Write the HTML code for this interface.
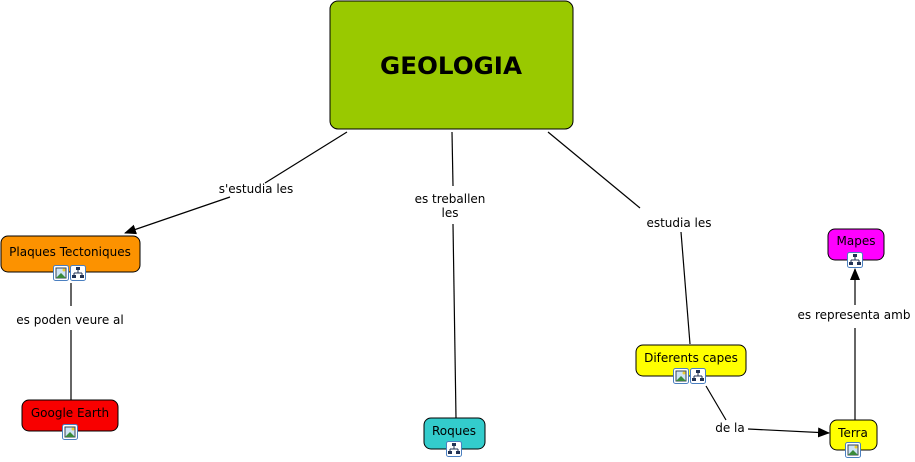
<!DOCTYPE html>
<html><head><meta charset="utf-8"><style>
html,body{margin:0;padding:0;background:#fff;width:915px;height:462px;overflow:hidden}
text{font-family:"DejaVu Sans","Liberation Sans",sans-serif;font-size:12px;fill:#000}
</style></head><body>
<svg width="915" height="462" viewBox="0 0 915 462" xmlns="http://www.w3.org/2000/svg">
<defs>
<marker id="a" markerWidth="12" markerHeight="10" refX="11" refY="5" orient="auto" markerUnits="userSpaceOnUse"><path d="M0,0 L12,5 L0,10 z" fill="#000"/></marker>
<g id="img"><rect x="0.5" y="0.5" width="15" height="15" rx="2" fill="#fff" stroke="#4a7fc0"/><rect x="3" y="3" width="10" height="10" fill="#cfe4f5" stroke="#345"/><path d="M3,13 L8,8 L13,13z" fill="#3a8a3a"/><circle cx="11" cy="5" r="1.5" fill="#ec3"/></g>
<g id="map"><rect x="0.5" y="0.5" width="15" height="15" rx="2" fill="#fff" stroke="#4a7fc0"/><rect x="6" y="2" width="4" height="3" fill="#235"/><rect x="2" y="10" width="4" height="3" fill="#235"/><rect x="10" y="10" width="4" height="3" fill="#235"/><path d="M8,5 V8 M4,8 H12 M4,8 V10 M12,8 V10" stroke="#235" fill="none"/></g>
</defs>
<g stroke="#000" stroke-width="1.2" fill="none">
<line x1="347" y1="132" x2="265" y2="183"/>
<line x1="230" y1="197" x2="125" y2="233" marker-end="url(#a)"/>
<line x1="452" y1="132" x2="453" y2="186"/>
<line x1="453" y1="224" x2="456" y2="418"/>
<line x1="548" y1="132" x2="640" y2="208"/>
<line x1="681" y1="232" x2="690" y2="344"/>
<line x1="71" y1="283" x2="71" y2="306"/>
<line x1="71" y1="330" x2="71" y2="400"/>
<line x1="706" y1="386" x2="726" y2="420"/>
<line x1="748" y1="429" x2="829" y2="433" marker-end="url(#a)"/>
<line x1="855" y1="420" x2="855" y2="328"/>
<line x1="855" y1="305" x2="855" y2="269" marker-end="url(#a)"/>
</g>
<rect x="330" y="1" width="243" height="128" rx="8" fill="#99c900" stroke="#000"/>
<text x="451" y="74" text-anchor="middle" style="font-size:24px;font-weight:bold" textLength="142" lengthAdjust="spacingAndGlyphs">GEOLOGIA</text>
<rect x="1" y="236" width="139" height="36" rx="7" fill="#fc9200" stroke="#000"/>
<text x="70" y="256" text-anchor="middle">Plaques Tectoniques</text>
<use href="#img" x="53" y="265"/><use href="#map" x="70" y="265"/>
<rect x="22" y="400" width="96" height="31" rx="7" fill="#f80000" stroke="#000"/>
<text x="70" y="417" text-anchor="middle">Google Earth</text>
<use href="#img" x="62" y="424"/>
<rect x="424" y="418" width="61" height="31" rx="7" fill="#33cccc" stroke="#000"/>
<text x="454" y="435" text-anchor="middle">Roques</text>
<use href="#map" x="446" y="441"/>
<rect x="636" y="345" width="110" height="31" rx="7" fill="#ffff00" stroke="#000"/>
<text x="691" y="362" text-anchor="middle">Diferents capes</text>
<use href="#img" x="673" y="368"/><use href="#map" x="690" y="368"/>
<rect x="828" y="229" width="56" height="31" rx="7" fill="#ff00ff" stroke="#000"/>
<text x="856" y="245" text-anchor="middle">Mapes</text>
<use href="#map" x="847" y="252"/>
<rect x="830" y="420" width="47" height="30" rx="7" fill="#ffff00" stroke="#000"/>
<text x="853" y="437" text-anchor="middle">Terra</text>
<use href="#img" x="845" y="442"/>
<text x="256" y="193" text-anchor="middle">s'estudia les</text>
<text x="450" y="203" text-anchor="middle">es treballen</text>
<text x="450" y="217" text-anchor="middle">les</text>
<text x="679" y="227" text-anchor="middle">estudia les</text>
<text x="70" y="324" text-anchor="middle">es poden veure al</text>
<text x="730" y="432" text-anchor="middle">de la</text>
<text x="854" y="319" text-anchor="middle">es representa amb</text>
</svg>
</body></html>
